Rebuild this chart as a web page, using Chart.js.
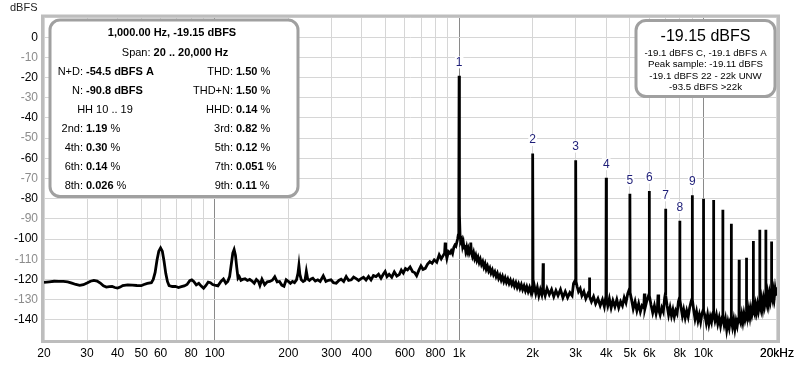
<!DOCTYPE html>
<html>
<head>
<meta charset="utf-8">
<script src="https://cdn.jsdelivr.net/npm/chart.js@4"></script>
<style>
  body { margin: 0; background: #fff; }
  canvas { display: block; }
</style>
</head>
<body>
<canvas id="spectrum" width="800" height="365"></canvas>
<script>
// spectrum, [Hz, dBFS]
const lowBand = [
  [20,-121.5],[21,-121.2],[22,-120.9],[23,-121],[24,-121],[25,-121.2],[26,-121.8],[27,-122.5],[28,-122.9],[29,-122.6],
  [30,-121.8],[31,-120.9],[32,-120.5],[33,-120.8],[34,-121.8],[35,-123.2],[36,-123.8],[37,-123.6],[38,-123.5],[39,-124],
  [40,-124.3],[41,-123.8],[42,-123],[44,-122.7],[46,-122.8],[48,-123],[50,-123.1],[51,-122.6],[53,-122],[55,-121.6],
  [56,-120],[57,-116.5],[58,-110.5],[59,-106],[60,-104.4],[61,-106],[62,-111],[63,-117],[64,-121],[65,-123],
  [67,-123.5],[69,-123.4],[71,-124],[73,-123.6],[75,-123.2],[77,-122.5],[79,-120.6],[80.5,-120.2],[82,-121],[84,-122.7],
  [86,-121.9],[88,-123.3],[90,-124.4],[92,-123],[94,-121.3],[96,-121.6],[98,-122.5],[100,-122.8],[103,-123.2],[106,-121],
  [108.5,-119.8],[111,-121.9],[113,-121],[115,-118.6],[117,-112],[118.5,-107],[120,-105.2],[121.5,-108],[123,-114],[124.5,-119.4],
  [126,-118.6],[128,-120.4],[130,-120],[133,-119.7],[136,-120.5],[139,-120],[142,-120.8],[145,-121.9],[148,-120],[151,-121],
  [153,-123],[156,-119.9],[160,-122.6],[164,-121.2],[168,-121],[172,-120.4],[176,-118.7],[180,-121.2],[184,-121],[188,-122.8],
  [192,-123.4],[196,-120.2],[200,-121],[204,-121.9],[208,-121],[212,-121.6],[216,-120.2]
];
const midBand = [
  [219,-117],[221,-113],[223,-117.5],[226,-120.2],[230,-121],[234,-120.5],[237,-116],[240,-119.8],[244,-120.5],[248,-119.8],
  [252,-119.4],[258,-120.8],[264,-120.2],[270,-121],[278,-118.2],[285,-121],[292,-120.4],[299,-120.2],[306,-121.6],[314,-121.9],
  [322,-120.5],[329,-119.9],[337,-121],[345,-118.6],[353,-120.5],[362,-120.2],[370,-118.8],[379,-119.6],[388,-120.5],[397,-119.6],
  [406,-118.9],[416,-120.3],[426,-118.5],[436,-120.2],[446,-118.1],[457,-118.6],[468,-117.4],[479,-119.4],[490,-117.3],[498,-116.1],
  [507,-118.6],[517,-117.5],[530,-118.9],[543,-116.3],[556,-118.3],[569,-117.6],[580,-115.4],[591,-116.8],[603,-114.6],[615,-115.3],
  [630,-113.8],[645,-116.2],[657,-116.6],[670,-118.2],[684,-115.5],[698,-113.3],[712,-115],[727,-114.5],[743,-112.4],[759,-111.2],
  [775,-112],[791,-110.3],[810,-111.5],[829,-107.8],[845,-109.8],[860,-108.2],[872,-107],[877,-101.8],[882,-106.5],[891,-109.5],
  [904,-106.2],[917,-107],[928,-105.8],[940,-107.2],[951,-104.2],[961,-103],[970,-103.5],[978,-101.8],[986,-100],[992,-98],
  [997,-88],[1000,-19.15],[1003,-88],[1009,-98.5],[1016,-101.2],[1025,-100.2],[1033,-103.5],[1041,-101.8],[1048,-104.5],[1056,-103],
  [1064,-105.8],[1073,-104],[1081,-106.3],[1090,-104.8],[1100,-107],[1110,-105.6],[1116,-101.7],[1122,-106.5],[1134,-108.6],[1146,-106.7],
  [1158,-109.6],[1170,-108],[1182,-110.6],[1195,-109],[1208,-111.6],[1221,-110],[1235,-112.6],[1249,-111.2],[1263,-113.8],[1277,-112.2],
  [1291,-115],[1306,-113.4],[1321,-115.8],[1336,-114.4],[1351,-116.8],[1367,-115.3],[1383,-117.6],[1400,-116.2],[1417,-118.6],[1434,-117],
  [1451,-119.5],[1469,-118],[1487,-120.3],[1505,-118.5],[1524,-121],[1543,-119.2],[1562,-121.5],[1582,-119.8],[1602,-122],[1622,-120.4],
  [1643,-122.6],[1664,-121],[1685,-123.4],[1707,-121.6],[1729,-124],[1751,-122.2],[1774,-124.5],[1797,-122.6],[1820,-125],[1844,-123.2],
  [1868,-125.6],[1892,-123.6],[1917,-126],[1942,-124],[1967,-126.4],[1985,-124.5],[1992,-124.8],[2000,-57.6],[2008,-125]
];
const highBand = [
  [2030,-123],[2060,-127],[2090,-124],[2120,-128],[2150,-125],[2180,-127.5],[2200,-124],[2207,-112],[2214,-125],[2250,-128],
  [2290,-124.5],[2340,-127.5],[2390,-125],[2440,-128.5],[2490,-125.5],[2540,-128],[2600,-125],[2660,-129],[2720,-126],[2780,-129],
  [2840,-126.5],[2900,-128],[2940,-122],[2970,-121],[2990,-122],[3000,-60.9],[3010,-121],
  [3040,-123.5],[3080,-126],[3130,-124.5],[3180,-128],[3240,-126],[3300,-129.5],[3370,-127],[3405,-128],[3415,-119],[3425,-128.5],
  [3480,-131],[3550,-128.5],[3620,-132],[3700,-129.5],[3780,-133],[3860,-130],[3930,-133.5],[3980,-129],[3990,-128.5],[4000,-69.6],[4010,-130],
  [4060,-133],[4120,-129.5],[4190,-134],[4260,-130.5],[4340,-133.5],[4420,-130],[4500,-134],[4580,-131],[4660,-133],[4740,-129],
  [4820,-131.5],[4900,-127],[4950,-125.5],[4990,-127],[5000,-77.6],[5010,-126.5],
  [5080,-130],[5160,-134.5],[5250,-131],[5340,-135.5],[5430,-132],[5520,-136],[5610,-133],[5700,-134],[5730,-127],[5760,-134.5],
  [5840,-131.5],[5920,-129],[5980,-127.5],[5990,-128],[6000,-76.2],[6012,-128],
  [6100,-132.5],[6200,-136.5],[6300,-133],[6400,-137],[6480,-134],[6520,-127.5],[6560,-135],[6650,-137.5],[6750,-134],[6850,-136],
  [6940,-129],[6985,-127],[7000,-85],[7015,-128],
  [7100,-133],[7200,-137.5],[7300,-134],[7400,-138],[7500,-135],[7600,-138.5],[7700,-135.5],[7800,-137],[7900,-131],[7985,-129],[8000,-90.9],[8015,-130],
  [8100,-134],[8200,-138],[8300,-135],[8420,-139],[8540,-135.5],[8660,-138.5],[8780,-134],[8900,-131],[8985,-129.5],[9000,-78.3],[9015,-130],
  [9120,-135],[9240,-139.5],[9370,-136],[9500,-140.5],[9620,-137.5],[9740,-141],[9860,-137],[9980,-135],[10000,-80],[10020,-135.5],
  [10150,-138],[10270,-141.5],[10400,-137.5],[10530,-142],[10660,-138.5],[10790,-141],[10900,-137],[10980,-136],[11000,-80.6],[11020,-137],
  [11150,-140.5],[11300,-137.5],[11450,-142],[11600,-139],[11750,-143],[11880,-139.5],[11980,-138],[12000,-85.5],[12020,-139],
  [12150,-142.5],[12300,-139.5],[12450,-145],[12600,-141],[12750,-144],[12880,-140],[12980,-139],[13000,-92.4],[13020,-140],
  [13150,-143.5],[13300,-140],[13450,-144.5],[13600,-140.5],[13750,-143],[13880,-139.5],[13980,-139],[14000,-110.3],[14020,-139.5],
  [14200,-141.5],[14350,-137.5],[14500,-141],[14650,-137],[14800,-140],[14980,-137],[15000,-109.3],[15020,-137.5],
  [15200,-139],[15350,-135],[15500,-138.5],[15650,-134.5],[15800,-137.5],[15980,-134.5],[16000,-100.9],[16020,-135],
  [16200,-137],[16350,-133],[16500,-136],[16650,-132.5],[16800,-135.5],[16980,-132],[17000,-95.4],[17020,-132.5],
  [17200,-135],[17350,-130.5],[17500,-134],[17650,-130],[17800,-133],[17980,-129.5],[18000,-95.4],[18020,-130],
  [18200,-132.5],[18350,-128],[18500,-131.5],[18650,-127.5],[18800,-130.5],[18980,-127],[19000,-101.2],[19020,-127.5],
  [19200,-130],[19350,-126],[19500,-129],[19650,-125],[19800,-128],[19900,-124],[20000,-126]
];

// numbered harmonic markers
const harmonicTags = ['1','2','3','4','5','6','7','8','9'];
const harmonicHz = [1000,2000,3000,4000,5000,6000,7000,8000,9000];
const harmonicDb = [-19.15,-57.6,-60.9,-69.6,-77.6,-76.2,-85,-90.9,-78.3];

// axis labels
const xTickHz = [20,30,40,50,60,80,100,200,300,400,600,800,1000,2000,3000,4000,5000,6000,8000,10000,20000];
const xTickText = ['20','30','40','50','60','80','100','200','300','400','600','800','1k','2k','3k','4k','5k','6k','8k','10k','20kHz'];
const yTickDb = [0,-10,-20,-30,-40,-50,-60,-70,-80,-90,-100,-110,-120,-130,-140];

// readout boxes
const readoutTitle = '1,000.00 Hz, -19.15 dBFS';
const readoutSpan = ['Span: ', '20 .. 20,000 Hz'];
const readoutLeft = [['N+D:','-54.5 dBFS A',''],['N:','-90.8 dBFS',''],null,['2nd:','1.19',' %'],['4th:','0.30',' %'],['6th:','0.14',' %'],['8th:','0.026',' %']];
const readoutRight = [['THD:','1.50',' %'],['THD+N:','1.50',' %'],['HHD:','0.14',' %'],['3rd:','0.82',' %'],['5th:','0.12',' %'],['7th:','0.051',' %'],['9th:','0.11',' %']];
const readoutHH = 'HH 10 .. 19';
const levelBig = '-19.15 dBFS';
const levelLines = ['-19.1 dBFS C, -19.1 dBFS A','Peak sample: -19.11 dBFS','-19.1 dBFS 22 - 22k UNW','-93.5 dBFS >22k'];

const FONT = '"Liberation Sans", Arial, sans-serif';
const spectrum = lowBand.concat(midBand, highBand).map(p => ({x: p[0], y: p[1]}));

const gridHz = [];
[10,100,1000,10000].forEach(d => { for (let m = 1; m <= 9; m++) { const v = d*m; if (v >= 20 && v <= 20000) gridHz.push(v); } });
gridHz.push(20000);

function runs(ctx, parts, x, y, align) {
    let w = 0;
    parts.forEach(p => { ctx.font = (p[1] ? 'bold ' : '') + '11px ' + FONT; w += ctx.measureText(p[0]).width; });
    let cx = align === 'center' ? x - w/2 : align === 'right' ? x - w : x;
    ctx.textAlign = 'left';
    parts.forEach(p => {
        ctx.font = (p[1] ? 'bold ' : '') + '11px ' + FONT;
        ctx.fillText(p[0], cx, y);
        cx += ctx.measureText(p[0]).width;
    });
}

function box(ctx, x0, y0, x1, y1) {
    ctx.beginPath();
    ctx.roundRect(x0, y0, x1 - x0, y1 - y0, 10);
    ctx.fillStyle = '#fff';
    ctx.fill();
    ctx.lineWidth = 3;
    ctx.strokeStyle = '#a0a0a0';
    ctx.stroke();
}

const overlay = {
    id: 'overlay',
    afterDatasetsDraw(chart) {
        const {ctx, chartArea: a, scales: {x, y}} = chart;
        ctx.save();
        // frame
        ctx.strokeStyle = '#bdbdbd';
        ctx.lineWidth = 3;
        ctx.strokeRect(a.left - 1.5, a.top - 1, a.right - a.left + 3, a.bottom - a.top + 2.5);

        ctx.textBaseline = 'middle';
        // axis unit
        ctx.fillStyle = '#222';
        ctx.font = '11px ' + FONT;
        ctx.textAlign = 'left';
        ctx.fillText('dBFS', 10, 8);

        // harmonic numbers
        ctx.font = '12px ' + FONT;
        ctx.textAlign = 'center';
        harmonicHz.forEach((f, i) => {
            const px = x.getPixelForValue(f);
            const py = y.getPixelForValue(harmonicDb[i]) - 13.5;
            const w = ctx.measureText(harmonicTags[i]).width;
            ctx.fillStyle = '#fff';
            ctx.fillRect(px - w/2 - 1, py - 6, w + 2, 12);
            ctx.fillStyle = '#1e1e78';
            ctx.fillText(harmonicTags[i], px, py);
        });

        // left readout
        box(ctx, 50, 20, 298, 196.5);
        ctx.fillStyle = '#000';
        runs(ctx, [[readoutTitle, true]], 172, 33, 'center');
        runs(ctx, [[readoutSpan[0], false], [readoutSpan[1], true]], 175, 53, 'center');
        for (let i = 0; i < 7; i++) {
            const ry = 72 + i * 18.95;
            const l = readoutLeft[i];
            if (l) {
                runs(ctx, [[l[0], false]], 83, ry, 'right');
                runs(ctx, [[l[1], true], [l[2], false]], 86, ry, 'left');
            } else {
                runs(ctx, [[readoutHH, false]], 105, ry, 'center');
            }
            const r = readoutRight[i];
            runs(ctx, [[r[0], false]], 233, ry, 'right');
            runs(ctx, [[r[1], true], [r[2], false]], 236, ry, 'left');
        }

        // right readout
        box(ctx, 636, 20.5, 775, 96.5);
        ctx.fillStyle = '#000';
        ctx.textAlign = 'center';
        ctx.font = '16px ' + FONT;
        ctx.fillText(levelBig, 705.5, 37);
        ctx.font = '9.7px ' + FONT;
        levelLines.forEach((t, i) => ctx.fillText(t, 705.5, 53.5 + i * 11.3));
        ctx.restore();
    }
};

new Chart(document.getElementById('spectrum').getContext('2d'), {
    type: 'line',
    data: {
        datasets: [{
            data: spectrum,
            borderColor: '#000',
            borderWidth: 2.8,
            pointRadius: 0,
            tension: 0,
            fill: false
        }]
    },
    options: {
        responsive: false,
        animation: false,
        layout: {padding: {top: 17, right: 21, left: 0, bottom: 0}},
        plugins: {legend: {display: false}, tooltip: {enabled: false}},
        scales: {
            x: {
                type: 'logarithmic',
                min: 20,
                max: 20000,
                afterBuildTicks: s => { s.ticks = gridHz.map(v => ({value: v})); },
                afterFit: s => { s.height = 25; },
                border: {display: false},
                grid: {
                    drawTicks: false,
                    color: c => [100, 1000, 10000].includes(c.tick && c.tick.value) ? '#8a8a8a' : '#d6d6d6'
                },
                ticks: {
                    autoSkip: false,
                    maxRotation: 0,
                    padding: 6,
                    color: '#000',
                    font: {family: FONT, size: 12},
                    callback: v => { const i = xTickHz.indexOf(v); return i < 0 ? '' : xTickText[i]; }
                }
            },
            y: {
                min: -150,
                max: 10,
                afterFit: s => { s.width = 44; },
                border: {display: false},
                grid: {drawTicks: false, color: '#d6d6d6'},
                ticks: {
                    stepSize: 5,
                    padding: 6,
                    font: {family: FONT, size: 12},
                    color: c => (c.tick.value % 20 === 0) ? '#000' : '#8c8c8c',
                    callback: v => yTickDb.includes(v) ? String(v) : ''
                }
            }
        }
    },
    plugins: [overlay]
});
</script>
</body>
</html>
